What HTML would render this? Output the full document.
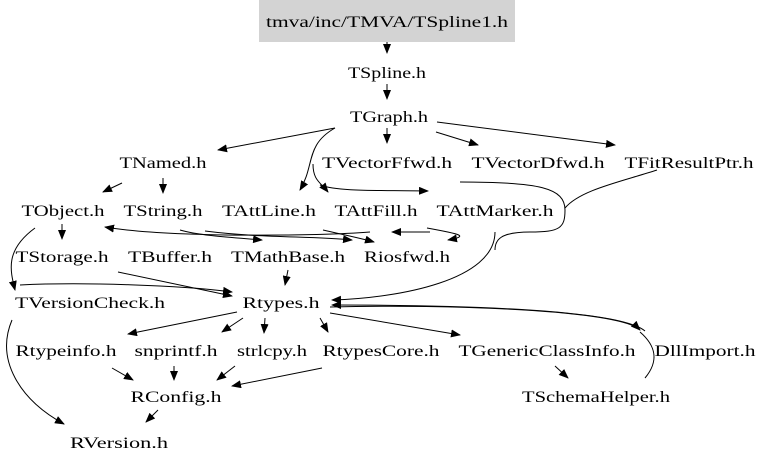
<!DOCTYPE html>
<html><head><meta charset="utf-8"><style>html,body{margin:0;padding:0;background:#fff}svg{display:block}text{font-family:"Liberation Serif",serif;font-size:16px;fill:#000}</style></head><body>
<svg width="768" height="466" viewBox="0 0 768 466" xmlns="http://www.w3.org/2000/svg">
<defs><marker id="a" markerWidth="10" markerHeight="8" refX="9" refY="4" orient="auto" markerUnits="userSpaceOnUse"><path d="M0,0 L10,4 L0,8 Z" fill="#000"/></marker></defs>
<rect x="259" y="0" width="256" height="42" fill="#d3d3d3"/>
<g fill="none" stroke="#000" stroke-width="1" marker-end="url(#a)">
<path d="M387,42 L387,53"/>
<path d="M387,84 L387,99"/>
<path d="M335,128 L218,150"/>
<path d="M387,128 L387,143"/>
<path d="M436,132 L478,145"/>
<path d="M437,122 L615,145"/>
<path d="M335,128 C305,145 315,165 300,190"/>
<path d="M313,164 C313,180 320,182 328,192"/>
<path d="M320,185 C340,192 380,190 428,191"/>
<path d="M122,183 L103,192"/>
<path d="M163,178 L163,193"/>
<path d="M62,224 L62,239"/>
<path d="M180,230 C200,236 240,238 262,240"/>
<path d="M323,230 C340,234 360,238 374,242"/>
<path d="M205,231 C260,238 310,236 352,240"/>
<path d="M370,232 C320,236 170,238 105,227"/>
<path d="M430,232 L392,232"/>
<path d="M427,228 C460,234 470,236 448,240"/>
<path d="M35,228 C5,250 10,270 15,290"/>
<path d="M20,285 C80,282 180,285 232,292"/>
<path d="M118,272 L232,296"/>
<path d="M288,270 L285,285"/>
<path d="M495,232 C495,280 400,298 332,300"/>
<path d="M330,307 C450,304 620,310 640,330"/>
<path d="M645,331 C620,310 470,305 332,305"/>
<path d="M237,312 L128,334"/>
<path d="M243,318 L222,332"/>
<path d="M265,318 L264,333"/>
<path d="M320,318 L328,332"/>
<path d="M330,313 L460,335"/>
<path d="M112,368 L133,380"/>
<path d="M174,366 L174,380"/>
<path d="M235,366 L217,380"/>
<path d="M322,368 L232,386"/>
<path d="M555,366 L568,378"/>
<path d="M12,320 C-5,360 20,400 64,424"/>
<path d="M158,410 L146,422"/>
</g>
<g fill="none" stroke="#000" stroke-width="1">
<path d="M460,182 C540,182 565,188 565,210 C565,228 560,232 530,232 C500,232 495,240 495,250"/>
<path d="M657,170 C620,182 580,190 565,208"/>
<path d="M645,378 C660,360 655,345 640,332"/>
</g>
<g>
<text x="387" y="27" text-anchor="middle" textLength="242" lengthAdjust="spacingAndGlyphs">tmva/inc/TMVA/TSpline1.h</text>
<text x="387" y="78" text-anchor="middle" textLength="78" lengthAdjust="spacingAndGlyphs">TSpline.h</text>
<text x="389" y="122" text-anchor="middle" textLength="78" lengthAdjust="spacingAndGlyphs">TGraph.h</text>
<text x="163" y="168" text-anchor="middle" textLength="87" lengthAdjust="spacingAndGlyphs">TNamed.h</text>
<text x="387" y="168" text-anchor="middle" textLength="130" lengthAdjust="spacingAndGlyphs">TVectorFfwd.h</text>
<text x="538" y="168" text-anchor="middle" textLength="133" lengthAdjust="spacingAndGlyphs">TVectorDfwd.h</text>
<text x="689" y="168" text-anchor="middle" textLength="129" lengthAdjust="spacingAndGlyphs">TFitResultPtr.h</text>
<text x="63" y="216" text-anchor="middle" textLength="83" lengthAdjust="spacingAndGlyphs">TObject.h</text>
<text x="163" y="216" text-anchor="middle" textLength="79" lengthAdjust="spacingAndGlyphs">TString.h</text>
<text x="269" y="216" text-anchor="middle" textLength="94" lengthAdjust="spacingAndGlyphs">TAttLine.h</text>
<text x="376" y="216" text-anchor="middle" textLength="83" lengthAdjust="spacingAndGlyphs">TAttFill.h</text>
<text x="495" y="216" text-anchor="middle" textLength="117" lengthAdjust="spacingAndGlyphs">TAttMarker.h</text>
<text x="62" y="262" text-anchor="middle" textLength="93" lengthAdjust="spacingAndGlyphs">TStorage.h</text>
<text x="170" y="262" text-anchor="middle" textLength="84" lengthAdjust="spacingAndGlyphs">TBuffer.h</text>
<text x="288" y="262" text-anchor="middle" textLength="114" lengthAdjust="spacingAndGlyphs">TMathBase.h</text>
<text x="407" y="262" text-anchor="middle" textLength="86" lengthAdjust="spacingAndGlyphs">Riosfwd.h</text>
<text x="90" y="308" text-anchor="middle" textLength="150" lengthAdjust="spacingAndGlyphs">TVersionCheck.h</text>
<text x="281" y="308" text-anchor="middle" textLength="77" lengthAdjust="spacingAndGlyphs">Rtypes.h</text>
<text x="66" y="356" text-anchor="middle" textLength="101" lengthAdjust="spacingAndGlyphs">Rtypeinfo.h</text>
<text x="176" y="356" text-anchor="middle" textLength="83" lengthAdjust="spacingAndGlyphs">snprintf.h</text>
<text x="272" y="356" text-anchor="middle" textLength="70" lengthAdjust="spacingAndGlyphs">strlcpy.h</text>
<text x="381" y="356" text-anchor="middle" textLength="117" lengthAdjust="spacingAndGlyphs">RtypesCore.h</text>
<text x="547" y="356" text-anchor="middle" textLength="177" lengthAdjust="spacingAndGlyphs">TGenericClassInfo.h</text>
<text x="705" y="356" text-anchor="middle" textLength="101" lengthAdjust="spacingAndGlyphs">DllImport.h</text>
<text x="176" y="402" text-anchor="middle" textLength="91" lengthAdjust="spacingAndGlyphs">RConfig.h</text>
<text x="596" y="402" text-anchor="middle" textLength="148" lengthAdjust="spacingAndGlyphs">TSchemaHelper.h</text>
<text x="119" y="448" text-anchor="middle" textLength="98" lengthAdjust="spacingAndGlyphs">RVersion.h</text>
</g>
</svg>
</body></html>
